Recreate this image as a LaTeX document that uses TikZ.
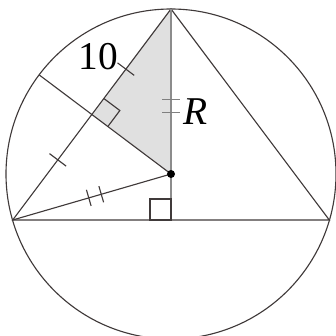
\documentclass[tikz,border=0pt]{standalone}
\usepackage{fontspec}
\setmainfont{Liberation Serif}
\usetikzlibrary{calc}
\definecolor{figG}{RGB}{224,224,224}
\definecolor{figL}{RGB}{64,58,58}
\tikzset{tick/.style={figL,line width=0.8pt}}

\begin{document}
\begin{tikzpicture}[x=0.025cm,y=-0.025cm,line width=0.8pt,figL]
\useasboundingbox (0,0) rectangle (336,336);
\clip (0,0) rectangle (336,336);
\coordinate (O) at (171,174);
\coordinate (A) at (171,9);
\coordinate (B) at (12.7,220);
\coordinate (C) at (329.3,220);
\coordinate (D) at (171,220);
\coordinate (M) at ($(A)!0.5!(B)$);
\coordinate (E) at ($(O)!4.125cm!(M)$);
% shaded triangle
\fill[figG] (A)--(M)--(O)--cycle;
\draw (O) circle[radius=165];
\draw (A)--(B)--(C)--cycle;
\draw[black!45,line width=1.1pt] (A)--(D);
\draw (O)--(B);
\draw (O)--(E);
% right angles
\coordinate (Ma) at ($(M)!0.5cm!(A)$);
\coordinate (Mo) at ($(M)!0.5cm!(O)$);
\draw (Ma)--($(Ma)+(Mo)-(M)$)--(Mo);
\draw (D) ++(-21,0) rectangle ++(21,-21);
% single ticks
\foreach \p in {A,B}{
  \coordinate (T) at ($(M)!0.43!(\p)$);
  \draw[tick] ($(T)!0.26cm!90:(\p)$)--($(T)!0.26cm!-90:(\p)$);
}
% double ticks
\foreach \s in {-6.5,6.5}{
  \draw[tick,black!50] ($(171,106)+(-9,\s)$)--($(171,106)+(9,\s)$);
  \coordinate (T) at ($($(O)!0.48!(B)$)!\s*0.025cm!(B)$);
  \draw[tick] ($(T)!0.21cm!90:(B)$)--($(T)!0.21cm!-90:(B)$);
}
\fill[black] (O) circle[radius=4];
\node[black,font=\fontsize{28}{28}\selectfont] at (98,57) {10};
\node[black,font=\fontsize{28}{28}\selectfont] at (196,112) {\textit{R}};
\end{tikzpicture}
\end{document}
